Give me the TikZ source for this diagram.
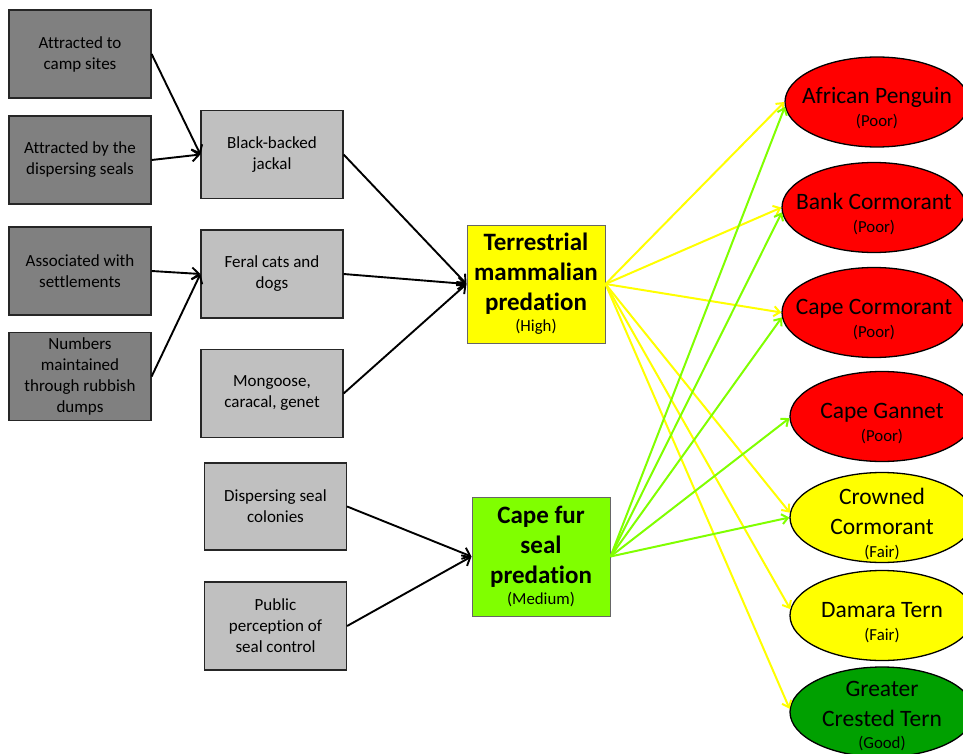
\documentclass[tikz,border=0pt]{standalone}
\usepackage{fontspec}
\setmainfont{Carlito}[Ligatures={NoCommon}]
\usetikzlibrary{shapes.geometric,arrows.meta}
\definecolor{darkbox}{HTML}{808080}
\definecolor{lightbox}{HTML}{C0C0C0}
\definecolor{sealgreen}{HTML}{80FF00}
\definecolor{goodgreen}{HTML}{00A000}
\definecolor{predyellow}{HTML}{FFFF00}
\newcommand{\smalltag}[1]{{\fontsize{16.8}{19}\selectfont\mdseries #1}}
\begin{document}
\begin{tikzpicture}[x=1pt,y=-1pt,
  box/.style={draw=black!85, line width=1.2pt, minimum width=142pt, minimum height=88pt,
    inner sep=2pt, align=center, font=\fontsize{17}{21}\selectfont},
  dark/.style={box, fill=darkbox},
  light/.style={box, fill=lightbox},
  pred/.style={draw=black!60, line width=1pt, minimum width=138pt, minimum height=118pt,
    inner sep=2pt, align=center, font=\fontsize{25}{30}\selectfont\bfseries},
  oval/.style={ellipse, draw=black, line width=1.3pt, minimum width=184pt, minimum height=90pt,
    inner xsep=-25pt, inner ysep=-20pt, align=center, font=\fontsize{23.5}{30}\selectfont},
  blk/.style={-{Straight Barb[length=7pt,width=12pt]}, line width=1.9pt, black},
  ylw/.style={-{Straight Barb[length=6pt,width=10pt]}, line width=2pt, predyellow},
  grn/.style={-{Straight Barb[length=6pt,width=10pt]}, line width=2pt, sealgreen},
]
\useasboundingbox (0,0) rectangle (963,754);

% driver boxes
\node[dark] (camp)   at (80,54)    {Attracted to\\camp sites};
\node[dark] (seals)  at (80,160)   {Attracted by the\\dispersing seals};
\node[dark] (settle) at (80,271)   {Associated with\\settlements};
\node[dark] (dumps)  at (80,376.5) {Numbers\\maintained\\through rubbish\\dumps};

% predators
\node[light] (jackal) at (272,154.5)   {Black-backed\\jackal};
\node[light] (feral)  at (272,274)     {Feral cats and\\dogs};
\node[light] (mong)   at (272,393.5)   {Mongoose,\\caracal, genet};
\node[light, minimum height=87pt] (colon)  at (275.5,506.5) {Dispersing seal\\colonies};
\node[light] (public) at (275.5,626)   {Public\\perception of\\seal control};

% predation types
\node[pred, fill=predyellow] (terr) at (536,284)
  {Terrestrial\\mammalian\\predation\\[-9pt]\smalltag{(High)}};
\node[pred, fill=sealgreen, minimum height=119pt] (seal) at (541,556.5)
  {Cape fur\\seal\\predation\\[-9pt]\smalltag{(Medium)}};

% species
\node[oval, fill=red] (ap)  at (877,102)   {\rule{0pt}{29pt}African Penguin\\[-7pt]\smalltag{(Poor)}};
\node[oval, fill=red] (bc)  at (874,207.5) {\rule{0pt}{29pt}Bank Cormorant\\[-7pt]\smalltag{(Poor)}};
\node[oval, fill=red] (cc)  at (874,312.5) {\rule{0pt}{29pt}Cape Cormorant\\[-7pt]\smalltag{(Poor)}};
\node[oval, fill=red] (cg)  at (882,416.5) {\rule{0pt}{29pt}Cape Gannet\\[-7pt]\smalltag{(Poor)}};
\node[oval, fill=predyellow] (crc) at (882,517.5) {\rule{0pt}{29pt}Crowned\\Cormorant\\[-7pt]\smalltag{(Fair)}};
\node[oval, fill=predyellow] (dt)  at (882,615.5) {\rule{0pt}{29pt}Damara Tern\\[-7pt]\smalltag{(Fair)}};
\node[oval, fill=goodgreen] (gct) at (882,712) {\rule{0pt}{24pt}Greater\\Crested Tern\\[-8pt]\smalltag{(Good)}};

% black connectors
\draw[blk] (camp.east)   -- (jackal.west);
\draw[blk] (seals.east)  -- (jackal.west);
\draw[blk] (settle.east) -- (feral.west);
\draw[blk] (dumps.east)  -- (feral.west);
\draw[blk] (jackal.east) -- (terr.west);
\draw[blk] (feral.east)  -- (terr.west);
\draw[blk] (mong.east)   -- (terr.west);
\draw[blk] (colon.east)  -- (seal.west);
\draw[blk] (public.east) -- (seal.west);

% terrestrial predation impacts
\draw[ylw] (terr.east) -- (ap.180);
\draw[ylw] (terr.east) -- (bc.180);
\draw[ylw] (terr.east) -- (cc.180);
\draw[ylw] (terr.east) -- (crc.177);
\draw[ylw] (terr.east) -- (dt.176);
\draw[ylw] (terr.east) -- (gct.178);

% seal predation impacts
\draw[grn] (seal.east) -- (ap.183);
\draw[grn] (seal.east) -- (bc.183);
\draw[grn] (seal.east) -- (cc.183);
\draw[grn] (seal.east) -- (cg.181);
\draw[grn] (seal.east) -- (crc.180);
\end{tikzpicture}
\end{document}
